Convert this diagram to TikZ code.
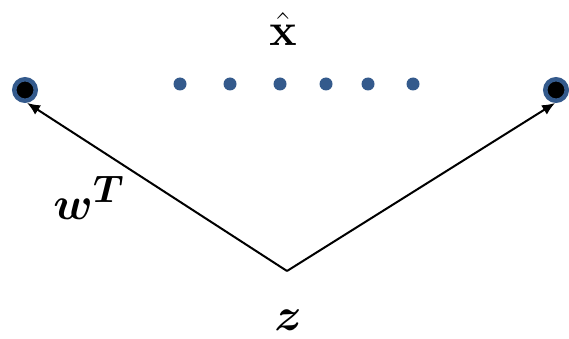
\documentclass[tikz,border=0pt]{standalone}
\usepackage{amsmath,bm}
\usetikzlibrary{arrows.meta}
\definecolor{nodeblue}{RGB}{52,90,140}
\begin{document}
\begin{tikzpicture}[x=1pt,y=-1pt,
  endpt/.style={circle,draw=nodeblue,line width=4.5pt,fill=black,minimum size=21.5pt,inner sep=0pt},
  dotpt/.style={circle,fill=nodeblue,minimum size=13pt,inner sep=0pt},
  conn/.style={line width=2pt,-{Latex[length=13pt,width=11pt]}},
  lbl/.style={font=\Huge,scale=1.85,inner sep=0pt}]
\useasboundingbox (0,0) rectangle (569,339);
\node[endpt] (left) at (25,90) {};
\node[endpt] (right) at (556,90) {};
\foreach \x [count=\i] in {180,230,280,326,368,413}
  \node[dotpt] (d\i) at (\x,84) {};
\coordinate (v) at (287,271);
\draw[conn] (v) -- (left.-81);
\draw[conn] (v) -- (right.-94);
\node[lbl] (xhat) at (283,29) {$\hat{\mathbf{x}}$};
\node[lbl] (w) at (89,198) {$\bm{w}^{\bm{T}}$};
\node[lbl] (z) at (288,320) {$\bm{z}$};
\end{tikzpicture}
\end{document}
